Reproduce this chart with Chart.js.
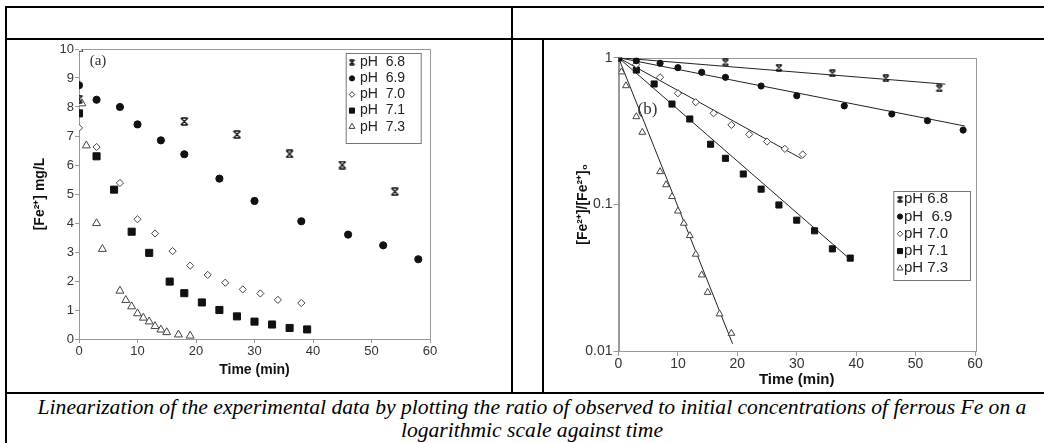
<!DOCTYPE html>
<html>
<head>
<meta charset="utf-8">
<script src="https://cdn.jsdelivr.net/npm/chart.js@4.4.0/dist/chart.umd.min.js"></script>
<style>
body{margin:0;background:#fff;width:1044px;height:443px;overflow:hidden;position:relative}
.ln{position:absolute;background:#000}
canvas{position:absolute}
#cap{position:absolute;left:5px;width:1054px;top:396px;font:italic 21.6px "Liberation Serif","Times New Roman",serif;text-align:center;line-height:23px;white-space:nowrap;color:#000}
</style>
</head>
<body>
<div class="ln" style="left:5px;top:6px;width:1039px;height:2px"></div>
<div class="ln" style="left:5px;top:38px;width:1039px;height:2px"></div>
<div class="ln" style="left:5px;top:392px;width:1039px;height:2px"></div>
<div class="ln" style="left:5px;top:6px;width:2px;height:437px"></div>
<div class="ln" style="left:511px;top:6px;width:2px;height:388px"></div>
<div class="ln" style="left:542px;top:38px;width:2px;height:356px"></div>
<canvas id="chartA" width="480" height="355" style="left:10px;top:40px"></canvas>
<canvas id="chartB" width="480" height="350" style="left:548px;top:42px"></canvas>
<div id="cap">Linearization of the experimental data by plotting the ratio of observed to initial concentrations of ferrous Fe on a<br>logarithmic scale against time</div>
<script>
// (a) [Fe2+] mg/L against time
var tA68 = [0, 18, 27, 36, 45, 54];
var fA68 = [8.27, 7.5, 7.05, 6.38, 6.0, 5.08];
var tA69 = [0, 3, 7, 10, 14, 18, 24, 30, 38, 46, 52, 58];
var fA69 = [8.75, 8.25, 8.0, 7.4, 6.85, 6.37, 5.53, 4.76, 4.06, 3.6, 3.23, 2.75];
var tA70 = [0, 3, 7, 10, 13, 16, 19, 22, 25, 28, 31, 34, 38];
var fA70 = [7.28, 6.62, 5.38, 4.13, 3.64, 3.03, 2.53, 2.21, 1.94, 1.71, 1.57, 1.35, 1.24];
var tA71 = [0, 3, 6, 9, 12, 15.5, 18, 21, 24, 27, 30, 33, 36, 39];
var fA71 = [7.78, 6.3, 5.15, 3.7, 2.97, 1.98, 1.58, 1.26, 1.0, 0.78, 0.6, 0.5, 0.38, 0.33];
var tA73 = [0, 0.5, 1.25, 3, 4, 7, 8, 9, 10, 11, 12, 13, 14, 15, 17, 19];
var fA73 = [10, 8.12, 6.67, 3.99, 3.1, 1.66, 1.34, 1.12, 0.88, 0.73, 0.6, 0.44, 0.32, 0.23, 0.15, 0.11];

// (b) [Fe2+]/[Fe2+]0 on log scale
var tB68 = [0, 18, 27, 36, 45, 54];
var rB68 = [1, 0.93, 0.855, 0.783, 0.724, 0.618];
var tB69 = [0, 3, 7, 10, 14, 18, 24, 30, 38, 46, 52, 58];
var rB69 = [1, 0.954, 0.916, 0.855, 0.795, 0.735, 0.641, 0.55, 0.469, 0.413, 0.372, 0.321];
var tB70 = [0, 3, 7, 10, 13, 16, 19, 22, 25, 28, 31];
var rB70 = [1, 0.9, 0.735, 0.572, 0.497, 0.418, 0.348, 0.3, 0.268, 0.239, 0.219];
var tB71 = [0, 3, 6, 9, 12, 15.5, 18, 21, 24, 27, 30, 33, 36, 39];
var rB71 = [1, 0.824, 0.662, 0.483, 0.382, 0.257, 0.206, 0.161, 0.127, 0.099, 0.078, 0.066, 0.0497, 0.043];
var tB73 = [0, 0.5, 1.25, 3, 4, 7, 8, 9, 10, 11, 12, 13, 14, 15, 17, 19];
var rB73 = [1, 0.8, 0.644, 0.396, 0.31, 0.167, 0.136, 0.113, 0.09, 0.0743, 0.0612, 0.0457, 0.033, 0.0251, 0.0179, 0.0132];

// fitted lines (start, end)
var fitT = [[0, 55], [0, 58.3], [0, 30.8], [0, 39.2], [0, 19.2]];
var fitR = [[1, 0.66], [1, 0.342], [1, 0.205], [1, 0.0415], [1, 0.0112]];

var legendA = ['pH  6.8', 'pH  6.9', 'pH  7.0', 'pH  7.1', 'pH  7.3'];
var legendB = ['pH 6.8', 'pH  6.9', 'pH 7.0', 'pH 7.1', 'pH 7.3'];
var logTicks = [0.01, 0.1, 1];
var logTickText = ['0.01', '0.1', '1'];

function pts(t, v) {
  return t.map(function (x, i) { return {x: x, y: v[i]}; });
}

// x with bars on top and bottom
function starMark(s) {
  var c = document.createElement('canvas');
  c.width = s; c.height = s;
  var g = c.getContext('2d');
  g.strokeStyle = '#111';
  g.lineWidth = 1.4;
  g.beginPath();
  g.moveTo(1, 1); g.lineTo(s - 1, s - 1);
  g.moveTo(s - 1, 1); g.lineTo(1, s - 1);
  g.moveTo(1.5, 1); g.lineTo(s - 1.5, 1);
  g.moveTo(1.5, s - 1); g.lineTo(s - 1.5, s - 1);
  g.stroke();
  return c;
}

var frame = {
  id: 'frame',
  beforeDatasetsDraw: function (chart) {
    var a = chart.chartArea, ctx = chart.ctx;
    ctx.save();
    ctx.strokeStyle = '#999';
    ctx.lineWidth = 1;
    ctx.strokeRect(Math.round(a.left) + 0.5, Math.round(a.top) + 0.5, Math.round(a.right - a.left), Math.round(a.bottom - a.top));
    ctx.restore();
  }
};

var boxLegend = {
  id: 'boxLegend',
  afterDraw: function (chart, args, o) {
    var ctx = chart.ctx;
    ctx.save();
    ctx.lineWidth = 1;
    ctx.strokeStyle = '#777';
    ctx.strokeRect(o.x + 0.5, o.y + 0.5, o.w, o.h);
    ctx.font = o.font;
    ctx.textBaseline = 'middle';
    o.labels.forEach(function (txt, i) {
      var ds = chart.data.datasets[i];
      var y = o.y + o.first + i * o.gap;
      ctx.fillStyle = ds.backgroundColor;
      ctx.strokeStyle = ds.borderColor;
      ctx.lineWidth = 1;
      Chart.helpers.drawPoint(ctx, {pointStyle: i === 0 ? o.star : ds.pointStyle, radius: o.r[i], borderWidth: 1, rotation: 0}, o.x + o.sx, y);
      ctx.fillStyle = '#222';
      ctx.textAlign = 'left';
      ctx.fillText(txt, o.x + o.tx, y);
    });
    ctx.font = o.tagFont;
    ctx.fillStyle = '#333';
    ctx.textAlign = 'center';
    ctx.fillText(o.tag, o.tagX, o.tagY);
    ctx.restore();
  }
};

function markers(data, big) {
  var s = big ? 1 : 0.86;
  return [
    {label: 'pH 6.8', data: data[0], pointStyle: starMark(big ? 9 : 8), backgroundColor: '#222', borderColor: '#222', pointRadius: 4},
    {label: 'pH 6.9', data: data[1], pointStyle: 'circle', backgroundColor: '#111', borderColor: '#111', pointRadius: 3.6 * s, borderWidth: 1},
    {label: 'pH 7.0', data: data[2], pointStyle: 'rectRot', backgroundColor: '#fff', borderColor: '#444', pointRadius: 3.6, borderWidth: 1},
    {label: 'pH 7.1', data: data[3], pointStyle: 'rect', backgroundColor: '#111', borderColor: '#111', pointRadius: 5 * s, borderWidth: 1},
    {label: 'pH 7.3', data: data[4], pointStyle: 'triangle', backgroundColor: '#fff', borderColor: '#444', pointRadius: 4.6 * s, borderWidth: 1}
  ];
}

var tickFont = {family: 'Liberation Sans', size: 13};
var titleFont = {family: 'Liberation Sans', size: 14, weight: 'bold'};

new Chart(document.getElementById('chartA'), {
  type: 'scatter',
  data: {
    datasets: markers([pts(tA68, fA68), pts(tA69, fA69), pts(tA70, fA70), pts(tA71, fA71), pts(tA73, fA73)], true)
  },
  options: {
    responsive: false,
    animation: false,
    events: [],
    layout: {padding: {left: 0, top: 9, right: 60, bottom: 0}},
    plugins: {
      legend: {display: false},
      tooltip: {enabled: false},
      boxLegend: {
        x: 335.7, y: 13, w: 75, h: 90, first: 9.3, gap: 16.1, sx: 6.3, tx: 14.3,
        r: [3, 2.6, 2.8, 3.6, 3.4], star: starMark(7),
        font: '14px "Liberation Sans"', labels: legendA,
        tag: '(a)', tagX: 88, tagY: 21.5, tagFont: '15px "Liberation Serif"'
      }
    },
    scales: {
      x: {
        type: 'linear', min: 0, max: 60,
        ticks: {stepSize: 10, color: '#333', font: tickFont, padding: 1, maxRotation: 0},
        grid: {drawOnChartArea: false, tickLength: 4, color: '#999'},
        border: {color: '#999'},
        title: {display: true, text: 'Time (min)', color: '#111', font: titleFont, padding: {top: 0, bottom: 16}},
        afterFit: function (s) { s.height = 56; }
      },
      y: {
        type: 'linear', min: 0, max: 10,
        ticks: {stepSize: 1, color: '#333', font: tickFont, padding: 1},
        grid: {drawOnChartArea: false, tickLength: 4, color: '#999'},
        border: {color: '#999'},
        title: {display: true, text: '[Fe²⁺] mg/L', color: '#111', font: titleFont, padding: {top: 22, bottom: 0}},
        afterFit: function (s) { s.width = 69; }
      }
    }
  },
  plugins: [frame, boxLegend]
});

var setB = markers([pts(tB68, rB68), pts(tB69, rB69), pts(tB70, rB70), pts(tB71, rB71), pts(tB73, rB73)], false);
fitT.forEach(function (t, i) {
  setB.push({label: 'fit', data: pts(t, fitR[i]), showLine: true, borderColor: '#222', borderWidth: 1, pointRadius: 0, backgroundColor: '#222'});
});

new Chart(document.getElementById('chartB'), {
  type: 'scatter',
  data: {datasets: setB},
  options: {
    responsive: false,
    animation: false,
    events: [],
    layout: {padding: {left: 0, top: 15.7, right: 53, bottom: 0}},
    plugins: {
      legend: {display: false},
      tooltip: {enabled: false},
      boxLegend: {
        x: 345.3, y: 149, w: 76.7, h: 89, first: 8.3, gap: 17.25, sx: 6.7, tx: 10.7,
        r: [3, 2.6, 2.8, 3.6, 3.4], star: starMark(7),
        font: '15px "Liberation Sans"', labels: legendB,
        tag: '(b)', tagX: 99.5, tagY: 68, tagFont: '17px "Liberation Serif"'
      }
    },
    scales: {
      x: {
        type: 'linear', min: 0, max: 60,
        ticks: {stepSize: 10, color: '#333', font: {family: 'Liberation Sans', size: 14}, padding: 0, maxRotation: 0},
        grid: {drawOnChartArea: false, tickLength: 5, color: '#999'},
        border: {color: '#999'},
        title: {display: true, text: 'Time (min)', color: '#111', font: {family: 'Liberation Sans', size: 15, weight: 'bold'}, padding: {top: 0, bottom: 3}},
        afterFit: function (s) { s.height = 41; }
      },
      y: {
        type: 'logarithmic', min: 0.01, max: 1,
        afterBuildTicks: function (s) {
          s.ticks = logTicks.map(function (v) { return {value: v}; });
        },
        ticks: {
          color: '#333', font: {family: 'Liberation Sans', size: 14}, padding: 1,
          callback: function (v) { return logTickText[logTicks.indexOf(v)]; }
        },
        grid: {drawOnChartArea: false, tickLength: 5, color: '#999'},
        border: {color: '#999'},
        title: {display: true, text: '[Fe²⁺]/[Fe²⁺]₀', color: '#111', font: titleFont, padding: {top: 27, bottom: 0}},
        afterFit: function (s) { s.width = 70.5; }
      }
    }
  },
  plugins: [frame, boxLegend]
});
</script>
</body>
</html>
